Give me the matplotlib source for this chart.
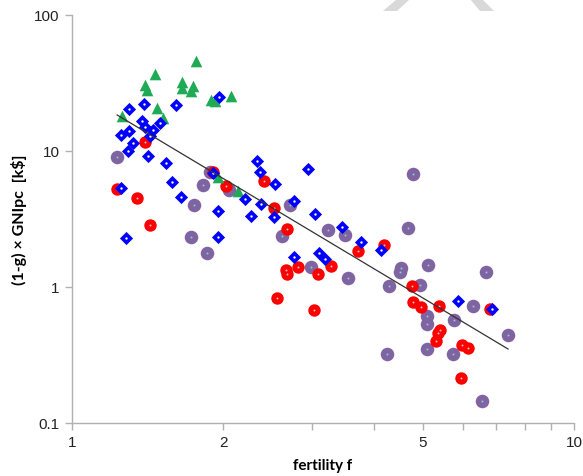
import matplotlib.pyplot as plt
from matplotlib.patches import Polygon
from matplotlib.ticker import FixedLocator, FixedFormatter, NullLocator

# Blue diamonds
blue_x = [1.30, 1.39, 1.61, 1.96, 1.38, 1.40, 1.45, 1.43, 1.50, 1.25, 1.30, 1.32,
          1.29, 1.42, 1.54, 1.58, 1.25, 1.65, 1.95, 1.28, 1.95, 1.91, 2.34, 2.37,
          2.54, 2.21, 2.38, 2.27, 2.52, 2.77, 2.95, 3.05, 3.45, 3.77, 2.77, 3.11,
          3.19, 4.13, 5.87, 6.87]
blue_y = [20.4, 22.2, 21.8, 24.9, 16.6, 15.0, 14.3, 12.9, 16.1, 13.1, 14.0, 11.5,
          10.0, 9.19, 8.16, 5.92, 5.35, 4.59, 3.62, 2.29, 2.33, 6.89, 8.44, 7.01,
          5.72, 4.44, 4.08, 3.33, 3.27, 4.29, 7.37, 3.44, 2.76, 2.14, 1.66, 1.78,
          1.61, 1.87, 0.79, 0.69]

# Green triangles
green_x = [1.77, 1.46, 1.40, 1.41, 1.66, 1.66, 1.74, 1.73, 1.89, 1.93, 2.07, 1.48,
           1.52, 1.26, 1.95, 2.14]
green_y = [45.9, 36.8, 30.6, 28.1, 32.2, 29.1, 30.1, 27.6, 23.7, 23.3, 25.4, 20.7,
           17.5, 18.1, 6.44, 5.08]

# Red circles
red_x = [1.23, 1.40, 1.35, 1.43, 1.91, 2.03, 2.41, 2.52, 2.68, 2.67, 2.68, 2.82,
         3.09, 3.28, 2.56, 3.03, 3.71, 4.18, 4.76, 4.78, 4.96, 5.38, 5.41, 5.36,
         5.31, 5.98, 6.15, 5.96, 6.80]
red_y = [5.26, 11.6, 4.51, 2.86, 7.01, 5.53, 6.02, 3.81, 2.67, 1.33, 1.25, 1.40,
         1.25, 1.43, 0.83, 0.677, 1.84, 2.04, 1.02, 0.776, 0.713, 0.725, 0.483, 0.459,
         0.401, 0.375, 0.356, 0.214, 0.689]

# Purple circles
purple_x = [1.23, 1.88, 1.82, 2.05, 1.75, 1.73, 1.86, 2.72, 2.62, 3.24, 3.50, 2.99,
            3.55, 4.78, 4.67, 4.52, 4.50, 5.12, 6.68, 4.28, 4.93, 6.29, 5.10, 5.10,
            5.77, 7.39, 4.24, 5.10, 5.74, 6.56]
purple_y = [9.03, 7.01, 5.62, 5.17, 4.01, 2.33, 1.78, 4.01, 2.37, 2.63, 2.41, 1.40,
            1.16, 6.77, 2.72, 1.38, 1.29, 1.45, 1.29, 1.02, 1.03, 0.725, 0.612, 0.535,
            0.572, 0.444, 0.322, 0.350, 0.322, 0.145]

# Power-law trend line end points
trend_x = [1.23, 7.39]
trend_y = [18.4, 0.35]

x_ticks = [1, 2, 3, 4, 5, 6, 7, 8, 9, 10]
x_labels = ['1', '2', '', '', '5', '', '', '', '', '10']
y_ticks = [0.1, 1, 10, 100]
y_labels = ['0.1', '1', '10', '100']

fig = plt.figure(figsize=(5.83, 4.77), dpi=100)
ax = fig.add_axes([72 / 583, 53 / 477, 502 / 583, 408 / 477])

ax.scatter(purple_x, purple_y, s=95, marker='o', color='#8064a2', linewidths=0, zorder=2)
ax.scatter(purple_x, purple_y, s=2, marker='o', color='#7fd0d8', linewidths=0, zorder=2.1)
ax.scatter(red_x, red_y, s=80, marker='o', color='#ff0000', linewidths=0, zorder=3)
ax.scatter(red_x, red_y, s=2, marker='o', color='#c8c8c8', linewidths=0, zorder=3.1)
ax.scatter(green_x, green_y, s=70, marker='^', color='#1faa55', linewidths=0, zorder=4)
ax.scatter(blue_x, blue_y, s=45, marker='D', color='#0000ff', linewidths=0, zorder=5)
ax.scatter(blue_x, blue_y, s=3, marker='o', color='#ffffff', linewidths=0, zorder=5.1)
ax.plot(trend_x, trend_y, color='#333333', lw=0.9, zorder=6)

ax.set_xscale('log')
ax.set_yscale('log')
ax.set_xlim(1, 10)
ax.set_ylim(0.1, 100)

ax.xaxis.set_major_locator(FixedLocator(x_ticks))
ax.xaxis.set_major_formatter(FixedFormatter(x_labels))
ax.xaxis.set_minor_locator(NullLocator())
ax.yaxis.set_major_locator(FixedLocator(y_ticks))
ax.yaxis.set_major_formatter(FixedFormatter(y_labels))
ax.yaxis.set_minor_locator(NullLocator())

for side in ['top', 'right']:
    ax.spines[side].set_visible(False)
for side in ['left', 'bottom']:
    ax.spines[side].set_color('#b0b0b0')
    ax.spines[side].set_linewidth(1.0)
ax.tick_params(axis='both', direction='out', length=5, width=1.0, color='#b0b0b0',
               labelsize=11, pad=4, labelcolor='#222222')
for lab in ax.get_xticklabels() + ax.get_yticklabels():
    lab.set_family(['Liberation Sans', 'DejaVu Sans'])

ax.set_xlabel('fertility f', fontsize=11, fontweight='bold',
              family=['Lato', 'DejaVu Sans'], labelpad=6)
ax.set_ylabel('(1-g) × GNIpc  [k$]', fontsize=11.5, fontweight='bold',
              family=['Lato', 'DejaVu Sans'], labelpad=5)

# grey watermark strokes at top
W, H = 583, 477
left_stroke = [(383, 12), (397, 12), (410, 0), (397, 0)]
right_stroke = [(470, 0), (482, 0), (494, 12), (480, 12)]
for pts in [left_stroke, right_stroke]:
    fig.patches.append(Polygon([(px / W, 1 - py / H) for px, py in pts], closed=True,
                               transform=fig.transFigure, facecolor='#d9d9d9',
                               edgecolor='none'))

fig.savefig('out.png', dpi=100)
